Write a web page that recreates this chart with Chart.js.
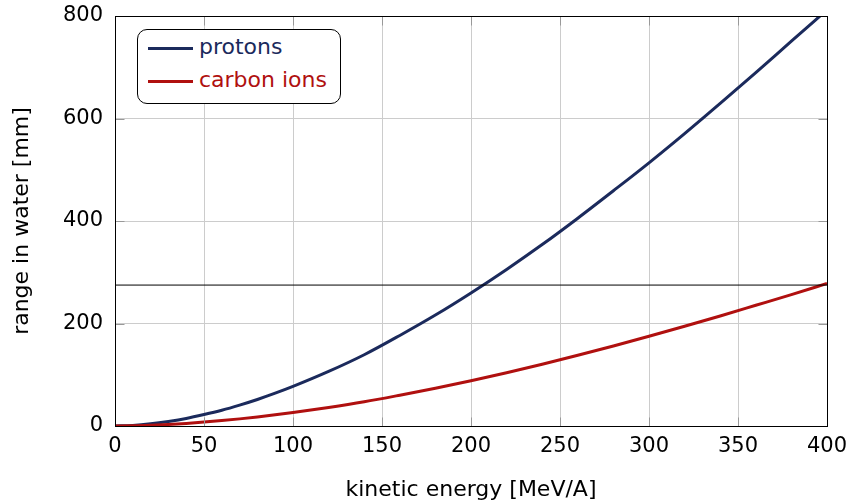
<!DOCTYPE html>
<html>
<head>
<meta charset="utf-8">
<script src="https://cdn.jsdelivr.net/npm/chart.js@4.4.1/dist/chart.umd.min.js"></script>
<style>
  body { margin: 0; background: #fff; }
  #wrap { position: relative; width: 849px; height: 503px; }
  #legend {
    position: absolute; left: 137px; top: 29px; width: 202px; height: 73px;
    border: 1px solid #000; border-radius: 10px; background: #fff;
    font-family: "DejaVu Sans", sans-serif; font-size: 22px;
  }
  .item { position: absolute; left: 10px; height: 26px; line-height: 26px; white-space: nowrap; }
  .item .ln { display: inline-block; width: 45px; height: 3px; vertical-align: middle; margin-right: 6px; }
</style>
</head>
<body>
<div id="wrap">
  <canvas id="myCanvas" width="849" height="503"></canvas>
  <div id="legend">
    <div class="item" style="top:4px;color:#1b2a5c"><span class="ln" style="background:#1b2a5c"></span>protons</div>
    <div class="item" style="top:37px;color:#b0100f"><span class="ln" style="background:#b0100f"></span>carbon ions</div>
  </div>
</div>
<script>
// kinetic energy per nucleon [MeV/A]
var energy = [0, 10, 20, 30, 40, 50, 60, 70, 80, 90, 100, 120, 140, 160, 180, 200, 220, 240, 260, 280, 300, 320, 340, 360, 380, 400];
// range in water [mm]
var protons = [0, 1.2, 4.3, 8.9, 14.7, 22.3, 30.8, 40.8, 51.8, 64.0, 77.2, 106.4, 139.0, 176.7, 216.5, 259.6, 305.5, 354.0, 405.5, 459.0, 513.5, 570.5, 629.5, 689.5, 751.0, 812.0];
var carbon = [0, 0.4, 1.5, 3.0, 5.0, 7.6, 10.5, 13.9, 17.6, 21.8, 26.3, 36.2, 47.3, 60.1, 73.6, 88.3, 104.0, 120.4, 137.9, 156.1, 175.0, 194.5, 214.7, 235.5, 256.4, 278.0];
var refLevel = 275;
var xTicks = [0, 50, 100, 150, 200, 250, 300, 350, 400];
var yTicks = [0, 200, 400, 600, 800];

function pts(ys) {
  var out = [];
  for (var i in energy) out.push({x: energy[i], y: ys[i]});
  return out;
}

// box around the plot plus short inward ticks on all four sides
var frame = {
  id: 'frame',
  afterDatasetsDraw: function(chart) {
    var a = chart.chartArea, c = chart.ctx;
    var L = Math.round(a.left) + 0.5, R = Math.round(a.right) + 0.5;
    var T = Math.round(a.top) + 0.5, B = Math.round(a.bottom) + 0.5;
    var len = 9;
    c.save();
    c.strokeStyle = '#999';
    c.lineWidth = 1;
    c.beginPath();
    xTicks.forEach(function(v) {
      var px = Math.round(chart.scales.x.getPixelForValue(v)) + 0.5;
      c.moveTo(px, B); c.lineTo(px, B - len);
      c.moveTo(px, T); c.lineTo(px, T + len);
    });
    yTicks.forEach(function(v) {
      var py = Math.round(chart.scales.y.getPixelForValue(v)) + 0.5;
      c.moveTo(L, py); c.lineTo(L + len, py);
      c.moveTo(R, py); c.lineTo(R - len, py);
    });
    c.stroke();
    c.strokeStyle = '#000';
    c.strokeRect(L, T, R - L, B - T);
    c.restore();
  }
};

Chart.defaults.font.family = "'DejaVu Sans', sans-serif";
Chart.defaults.color = '#000';

new Chart(document.getElementById('myCanvas'), {
  type: 'line',
  data: {
    datasets: [
      {
        label: 'level',
        data: [{x: 0, y: refLevel}, {x: 400, y: refLevel}],
        borderColor: '#000',
        borderWidth: 1,
        pointRadius: 0,
        fill: false
      },
      {
        label: 'carbon ions',
        data: pts(carbon),
        borderColor: '#b0100f',
        borderWidth: 3,
        pointRadius: 0,
        cubicInterpolationMode: 'monotone',
        fill: false
      },
      {
        label: 'protons',
        data: pts(protons),
        borderColor: '#1b2a5c',
        borderWidth: 3,
        pointRadius: 0,
        cubicInterpolationMode: 'monotone',
        fill: false
      }
    ]
  },
  options: {
    responsive: false,
    animation: false,
    layout: { padding: { top: 16, right: 22, left: 0, bottom: 0 } },
    plugins: { legend: { display: false }, tooltip: { enabled: false } },
    scales: {
      x: {
        type: 'linear', min: 0, max: 400,
        afterBuildTicks: function(s) { s.ticks = xTicks.map(function(v) { return {value: v}; }); },
        afterFit: function(s) { s.height = 77; s.paddingLeft = 0; s.paddingRight = 0; },
        grid: { color: '#cccccc', drawTicks: false },
        border: { display: false },
        ticks: { padding: 8, maxRotation: 0, font: { size: 21 } },
        title: { display: true, text: 'kinetic energy [MeV/A]', font: { size: 22 }, padding: { top: 0, bottom: 0 } }
      },
      y: {
        min: 0, max: 800,
        afterBuildTicks: function(s) { s.ticks = yTicks.map(function(v) { return {value: v}; }); },
        afterFit: function(s) { s.width = 115; s.paddingTop = 0; s.paddingBottom = 0; },
        grid: { color: '#cccccc', drawTicks: false },
        border: { display: false },
        ticks: { padding: 12, font: { size: 21 } },
        title: { display: true, text: 'range in water [mm]', font: { size: 22 }, padding: { top: 9, bottom: 0 } }
      }
    }
  },
  plugins: [frame]
});
</script>
</body>
</html>
